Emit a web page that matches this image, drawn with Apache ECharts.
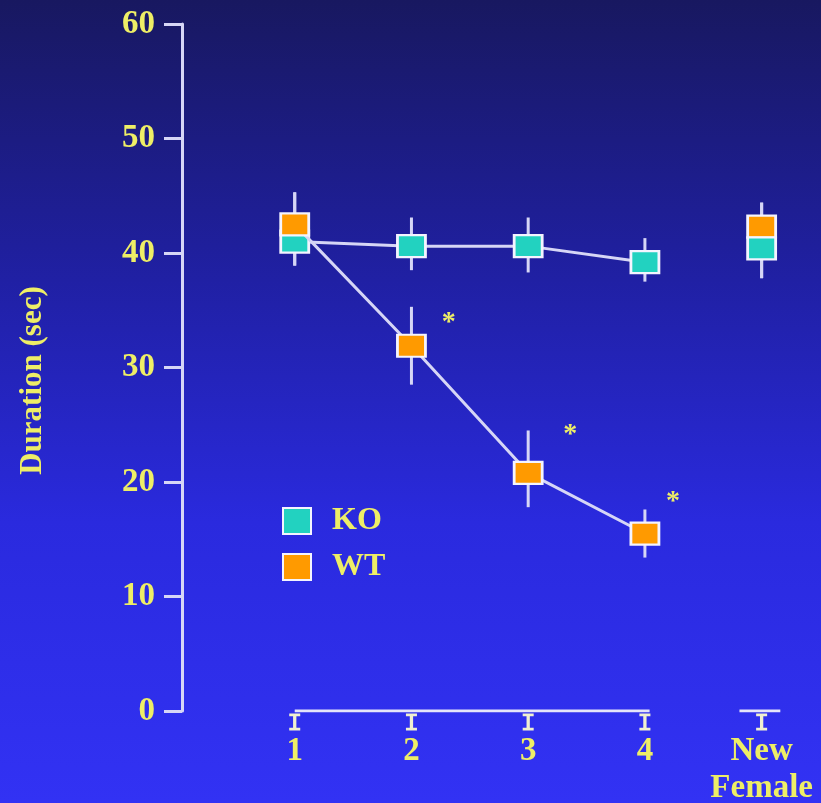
<!DOCTYPE html>
<html>
<head>
<meta charset="utf-8">
<script src="https://cdn.jsdelivr.net/npm/echarts@6/dist/echarts.min.js"></script>
<style>
  html, body { margin: 0; padding: 0; }
  #main {
    width: 821px; height: 803px;
    background: linear-gradient(to bottom, #181860 0%, #2020a4 35%, #2a2ade 65%, #3232f4 100%);
  }
</style>
</head>
<body>
<div id="main"></div>
<script>
  // sessions on x, New Female is session 5
  var sessions = [1, 2, 3, 4];
  var sessionLabels = ['1', '2', '3', '4', 'New\nFemale'];
  var yTicks = [0, 10, 20, 30, 40, 50, 60];

  // mean duration (sec)
  var koMean = [41.0, 40.6, 40.6, 39.2];
  var wtMean = [42.5, 31.9, 20.8, 15.5];
  var koNewFemale = 40.4;
  var wtNewFemale = 42.3;

  // error bar ends (low, high)
  var koLow = [38.9, 38.5, 38.3, 37.5, 37.8];
  var koHigh = [45.3, 43.1, 43.1, 41.3, 44.4];
  var wtLow = [38.9, 28.5, 17.8, 13.4, 37.8];
  var wtHigh = [45.3, 35.3, 24.5, 17.6, 44.4];

  // significance asterisks
  var starX = [2.32, 3.36, 4.24];
  var starY = [33.9, 24.1, 18.3];

  // broken x axis line pieces
  var axisMain = [1, 4.04];
  var axisNewFemale = [4.81, 5.16];

  var yellow = '#eeee66';
  var pale = '#d6d6f6';
  var koColor = '#22d2c0';
  var wtColor = '#ff9a00';
  var serif = '"Liberation Serif", "DejaVu Serif", serif';

  var chart = echarts.init(document.getElementById('main'));

  function pairs(xs, ys) {
    return xs.map(function (x, i) { return [x, ys[i]]; });
  }
  function bars(lo, hi) {
    return lo.map(function (l, i) { return [i + 1, l, hi[i]]; });
  }
  function errorRender(params, api) {
    var a = api.coord([api.value(0), api.value(1)]);
    var b = api.coord([api.value(0), api.value(2)]);
    return {
      type: 'line',
      shape: { x1: a[0], y1: a[1], x2: b[0], y2: b[1] },
      style: { stroke: pale, lineWidth: 3 }
    };
  }

  var boxStyle = function (c) {
    return { color: c, borderColor: '#f4f4ff', borderWidth: 2.5, opacity: 1 };
  };

  chart.setOption({
    animation: false,
    grid: { left: 178, right: 1, top: 24, bottom: 92, outerBoundsMode: 'none', containLabel: false },
    legend: {
      data: ['KO', 'WT'],
      orient: 'vertical',
      left: 277,
      top: 500,
      icon: 'rect',
      itemWidth: 28,
      itemHeight: 26,
      itemGap: 14,
      itemStyle: { borderColor: '#f4f4ff', borderWidth: 2 },
      textStyle: { color: yellow, fontSize: 32, fontWeight: 'bold', fontFamily: serif, padding: [0, 0, 0, 16] }
    },
    xAxis: {
      type: 'value',
      min: 0,
      max: 5.5,
      interval: 1,
      splitLine: { show: false },
      axisLine: { show: false },
      axisTick: { show: false },
      axisLabel: {
        margin: 22,
        color: yellow,
        fontSize: 33,
        fontWeight: 'bold',
        fontFamily: serif,
        lineHeight: 37,
        verticalAlign: 'top',
        formatter: function (v) {
          return sessionLabels[v - 1] || '';
        }
      }
    },
    yAxis: {
      type: 'value',
      min: 0,
      max: 60,
      interval: 10,
      offset: -4,
      name: 'Duration (sec)',
      nameLocation: 'middle',
      nameRotate: 90,
      nameGap: 134,
      nameTextStyle: { color: yellow, fontSize: 31, fontWeight: 'bold', fontFamily: serif, padding: [0, 26, 0, 0] },
      splitLine: { show: false },
      axisLine: { show: true, lineStyle: { color: pale, width: 3 } },
      axisTick: { show: true, length: 18, lineStyle: { color: pale, width: 3 } },
      axisLabel: {
        margin: 27,
        color: yellow,
        fontSize: 33,
        fontWeight: 'bold',
        fontFamily: serif,
        formatter: function (v) { return yTicks.indexOf(v) >= 0 ? String(v) : ''; }
      }
    },
    series: [
      {
        name: 'axis',
        type: 'line',
        silent: true,
        symbol: 'none',
        lineStyle: { color: '#e4e4fa', width: 3 },
        data: axisMain.map(function (x) { return [x, 0]; }),
        z: 1
      },
      {
        name: 'axis2',
        type: 'line',
        silent: true,
        symbol: 'none',
        lineStyle: { color: '#e4e4fa', width: 3 },
        data: axisNewFemale.map(function (x) { return [x, 0]; }),
        z: 1
      },
      {
        name: 'ticks',
        type: 'scatter',
        silent: true,
        symbol: 'path://M0,0H10V2.5H6.5V13.5H10V16H0V13.5H3.5V2.5H0Z',
        symbolSize: [11, 17],
        symbolOffset: [0, 11],
        itemStyle: { color: '#f0f0d0', opacity: 1 },
        data: sessionLabels.map(function (s, i) { return [i + 1, 0]; })
      },
      {
        name: 'koErr',
        type: 'custom',
        renderItem: errorRender,
        encode: { x: 0, y: [1, 2] },
        data: bars(koLow, koHigh),
        z: 2
      },
      {
        name: 'wtErr',
        type: 'custom',
        renderItem: errorRender,
        encode: { x: 0, y: [1, 2] },
        data: bars(wtLow, wtHigh),
        z: 2
      },
      {
        name: 'KO',
        type: 'line',
        symbol: 'rect',
        symbolSize: [28, 22],
        itemStyle: boxStyle(koColor),
        lineStyle: { color: pale, width: 3 },
        data: pairs(sessions, koMean),
        z: 3
      },
      {
        name: 'KO',
        type: 'scatter',
        symbol: 'rect',
        symbolSize: [28, 22],
        itemStyle: boxStyle(koColor),
        data: [[5, koNewFemale]],
        z: 3
      },
      {
        name: 'WT',
        type: 'line',
        symbol: 'rect',
        symbolSize: [28, 22],
        itemStyle: boxStyle(wtColor),
        lineStyle: { color: pale, width: 3 },
        data: pairs(sessions, wtMean),
        z: 4
      },
      {
        name: 'WT',
        type: 'scatter',
        symbol: 'rect',
        symbolSize: [28, 22],
        itemStyle: boxStyle(wtColor),
        data: [[5, wtNewFemale]],
        z: 2.5
      },
      {
        name: 'stars',
        type: 'scatter',
        silent: true,
        symbolSize: 1,
        itemStyle: { color: 'transparent', opacity: 1 },
        label: {
          show: true,
          position: 'inside',
          formatter: '*',
          color: yellow,
          fontSize: 28,
          fontWeight: 'bold',
          fontFamily: serif
        },
        data: pairs(starX, starY)
      }
    ]
  });

  window.addEventListener('resize', function () {
    chart.resize();
  });
</script>
</body>
</html>
